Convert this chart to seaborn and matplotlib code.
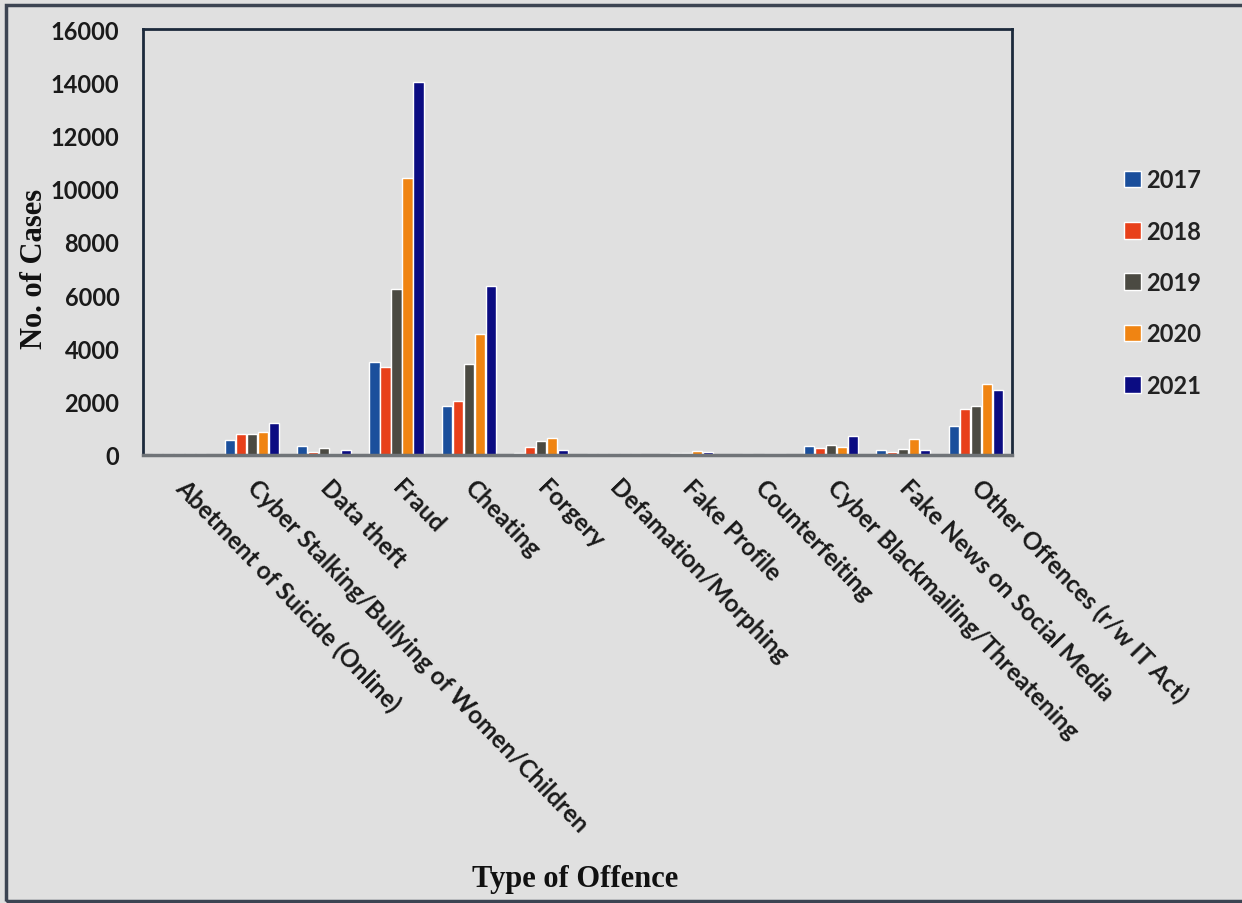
import matplotlib
matplotlib.use("Agg")
import matplotlib.pyplot as plt
import seaborn as sns
import pandas as pd
from matplotlib.patches import Rectangle

# Offence categories and yearly case counts
offences = [
    "Abetment of Suicide (Online)",
    "Cyber Stalking/Bullying of Women/Children",
    "Data theft",
    "Fraud",
    "Cheating",
    "Forgery",
    "Defamation/Morphing",
    "Fake Profile",
    "Counterfeiting",
    "Cyber Blackmailing/Threatening",
    "Fake News on Social Media",
    "Other Offences (r/w IT Act)",
]
years = ["2017", "2018", "2019", "2020", "2021"]

cases_2017 = [20, 560, 330, 3490, 1840, 90, 20, 50, 10, 330, 200, 1100]
cases_2018 = [30, 780, 100, 3300, 2030, 290, 30, 60, 20, 250, 110, 1730]
cases_2019 = [20, 790, 270, 6230, 3420, 520, 30, 70, 10, 380, 210, 1850]
cases_2020 = [40, 880, 50, 10400, 4530, 630, 40, 160, 20, 310, 600, 2670]
cases_2021 = [30, 1200, 200, 14000, 6350, 200, 50, 110, 20, 730, 200, 2430]

yticks = [0, 2000, 4000, 6000, 8000, 10000, 12000, 14000, 16000]

palette = ["#1b4f9c", "#e8401a", "#4b4a42", "#f08412", "#0b0c82"]

df = pd.DataFrame({
    "offence": offences * 5,
    "year": [y for y in years for _ in offences],
    "cases": cases_2017 + cases_2018 + cases_2019 + cases_2020 + cases_2021,
})

bg = "#e0e0e0"
sns.set_theme(style="white")
plt.rcParams["font.family"] = ["Lato", "DejaVu Sans"]

fig = plt.figure(figsize=(12.42, 9.04), dpi=100, facecolor=bg)
ax = fig.add_axes([143 / 1242, 1 - 456 / 904, (1012 - 143) / 1242, (456 - 30) / 904])
ax.set_facecolor(bg)

sns.barplot(data=df, x="offence", y="cases", hue="year", order=offences,
            hue_order=years, palette=palette, width=0.76, gap=0.08,
            saturation=1, ax=ax, legend=True)

ax.set_ylim(0, 16000)
ax.set_xlim(-0.5, len(offences) - 0.5)
ax.set_yticks(yticks)
ax.set_yticklabels([str(v) for v in yticks], fontsize=17, fontweight="bold",
                   color="#1a1a1a")
ax.tick_params(axis="y", length=0, pad=17)
ax.tick_params(axis="x", length=0, pad=20)
ax.set_xticks(range(len(offences)))
ax.set_xticklabels(offences, rotation=-46, ha="left", va="center",
                   rotation_mode="anchor", fontsize=17.5, fontweight="bold",
                   color="#1a1a1a")

for side in ["left", "top", "right"]:
    ax.spines[side].set_visible(True)
    ax.spines[side].set_color("#1c2a3c")
    ax.spines[side].set_linewidth(2)
ax.spines["bottom"].set_color("#707478")
ax.spines["bottom"].set_linewidth(2.5)

ax.set_ylabel("No. of Cases", family="Liberation Serif", fontweight="bold",
              fontsize=22, color="#111111")
ax.yaxis.set_label_coords(-0.108, 0.44)
ax.set_xlabel("Type of Offence", family="Liberation Serif", fontweight="bold",
              fontsize=22, color="#111111", va="center")
ax.xaxis.set_label_coords((575 - 143) / (1012 - 143), -(880 - 456) / (456 - 30))

leg = ax.legend(loc="center left", bbox_to_anchor=(1.105, 0.405), frameon=False,
                handlelength=0.7, handleheight=0.7, handletextpad=0.2,
                labelspacing=1.2, prop={"family": "Lato", "weight": "bold", "size": 17})
for t in leg.get_texts():
    t.set_color("#222222")

# Figure border (left, top and bottom edges)
fig.patches.append(Rectangle((6 / 1242, 2 / 904), 1.05, 1 - 8 / 904,
                             transform=fig.transFigure, fill=False,
                             edgecolor="#3c4452", linewidth=2.5))

fig.savefig("out.png", dpi=100, facecolor=bg)
